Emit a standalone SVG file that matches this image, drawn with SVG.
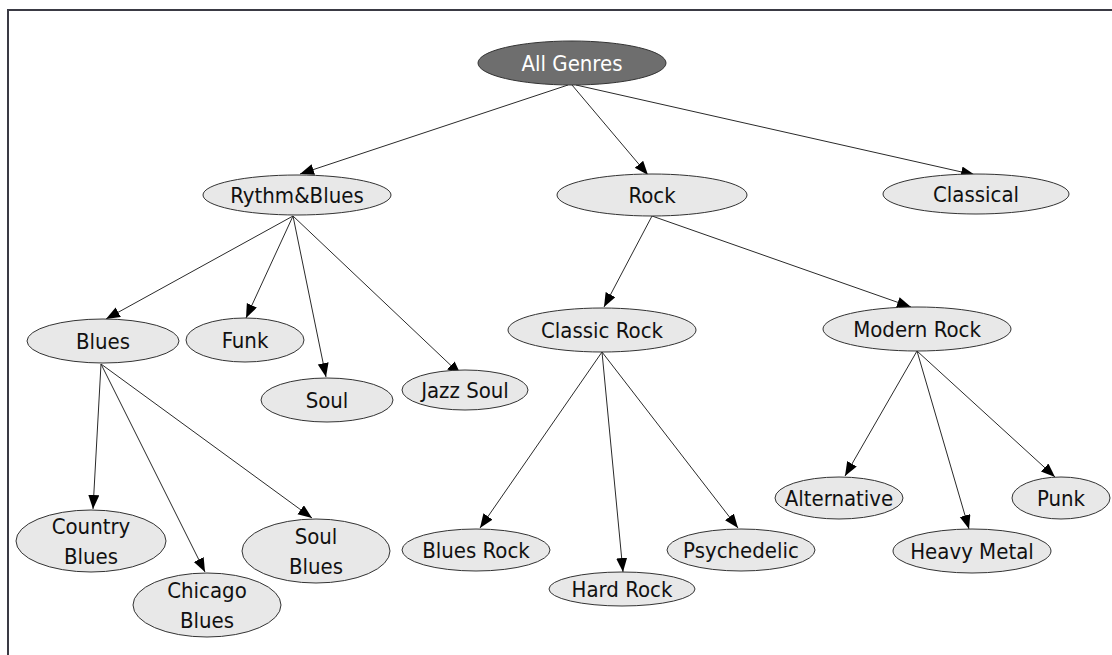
<svg xmlns="http://www.w3.org/2000/svg" width="1112" height="655" viewBox="0 0 1112 655">
<defs>
<marker id="arr" markerWidth="15" markerHeight="12" refX="14" refY="5.5" orient="auto" markerUnits="userSpaceOnUse">
<path d="M0,0 L14,5.5 L0,11 Z" fill="#000"/>
</marker>
<style>
.n ellipse{fill:#e8e8e8;stroke:#333;stroke-width:1}
.n text{font-family:"DejaVu Sans Condensed","DejaVu Sans",sans-serif;font-size:22px;fill:#111;text-anchor:middle;dominant-baseline:central}
#edges line{stroke:#2a2a2a;stroke-width:1;marker-end:url(#arr)}
</style>
</defs>
<rect width="1112" height="655" fill="#fff"/>
<path d="M8,655 V10 H1112" fill="none" stroke="#3a3a44" stroke-width="2"/>
<g id="edges">
<line x1="568" y1="85" x2="300" y2="174"/>
<line x1="572" y1="85" x2="648" y2="175"/>
<line x1="576" y1="85" x2="975" y2="175"/>
<line x1="293" y1="216" x2="106" y2="319"/>
<line x1="293" y1="216" x2="246" y2="318"/>
<line x1="293" y1="216" x2="326" y2="377"/>
<line x1="293" y1="216" x2="461" y2="375"/>
<line x1="652" y1="216" x2="604" y2="307"/>
<line x1="652" y1="216" x2="911" y2="307"/>
<line x1="101" y1="364" x2="93" y2="509"/>
<line x1="101" y1="364" x2="205" y2="572"/>
<line x1="101" y1="364" x2="312" y2="518"/>
<line x1="602" y1="352" x2="480" y2="528"/>
<line x1="602" y1="352" x2="623" y2="572"/>
<line x1="602" y1="352" x2="738" y2="528"/>
<line x1="917" y1="351" x2="845" y2="476"/>
<line x1="917" y1="351" x2="969" y2="529"/>
<line x1="917" y1="351" x2="1055" y2="477"/>
</g>
<g id="all-genres" class="n"><ellipse cx="572" cy="63" rx="94" ry="22" style="fill:#6e6e6e"/><text x="572" y="63" style="fill:#fff">All Genres</text></g>
<g id="rythm-blues" class="n"><ellipse cx="297" cy="195" rx="94" ry="20"/><text x="297" y="195">Rythm&amp;Blues</text></g>
<g id="rock" class="n"><ellipse cx="652" cy="195" rx="95" ry="21"/><text x="652" y="195">Rock</text></g>
<g id="classical" class="n"><ellipse cx="976" cy="194" rx="93" ry="20"/><text x="976" y="194">Classical</text></g>
<g id="blues" class="n"><ellipse cx="103" cy="341" rx="76" ry="22"/><text x="103" y="341">Blues</text></g>
<g id="funk" class="n"><ellipse cx="245" cy="340" rx="59" ry="22"/><text x="245" y="340">Funk</text></g>
<g id="soul" class="n"><ellipse cx="327" cy="400" rx="66" ry="22"/><text x="327" y="400">Soul</text></g>
<g id="jazz-soul" class="n"><ellipse cx="465" cy="390" rx="63" ry="20"/><text x="465" y="390">Jazz Soul</text></g>
<g id="classic-rock" class="n"><ellipse cx="602" cy="330" rx="94" ry="22"/><text x="602" y="330">Classic Rock</text></g>
<g id="modern-rock" class="n"><ellipse cx="917" cy="329" rx="94" ry="22"/><text x="917" y="329">Modern Rock</text></g>
<g id="country-blues" class="n"><ellipse cx="91" cy="541" rx="75" ry="31"/><text x="91" y="526">Country</text><text x="91" y="556">Blues</text></g>
<g id="chicago-blues" class="n"><ellipse cx="207" cy="605" rx="74" ry="32"/><text x="207" y="590">Chicago</text><text x="207" y="620">Blues</text></g>
<g id="soul-blues" class="n"><ellipse cx="316" cy="551" rx="74" ry="32"/><text x="316" y="536">Soul</text><text x="316" y="566">Blues</text></g>
<g id="blues-rock" class="n"><ellipse cx="476" cy="550" rx="74" ry="21"/><text x="476" y="550">Blues Rock</text></g>
<g id="hard-rock" class="n"><ellipse cx="622" cy="589" rx="73" ry="17"/><text x="622" y="589">Hard Rock</text></g>
<g id="psychedelic" class="n"><ellipse cx="741" cy="550" rx="74" ry="21"/><text x="741" y="550">Psychedelic</text></g>
<g id="alternative" class="n"><ellipse cx="839" cy="498" rx="64" ry="21"/><text x="839" y="498">Alternative</text></g>
<g id="heavy-metal" class="n"><ellipse cx="972" cy="551" rx="79" ry="22"/><text x="972" y="551">Heavy Metal</text></g>
<g id="punk" class="n"><ellipse cx="1061" cy="498" rx="49" ry="21"/><text x="1061" y="498">Punk</text></g>
</svg>
